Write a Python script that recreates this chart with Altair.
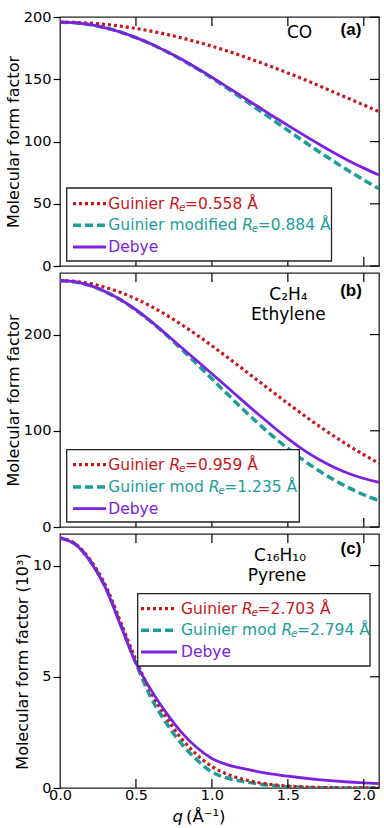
import altair as alt
import pandas as pd

# ---------------- data ----------------
Q = [0.0, 0.1, 0.2, 0.3, 0.4, 0.5, 0.6, 0.7, 0.8, 0.9, 1.0,
     1.1, 1.2, 1.3, 1.4, 1.5, 1.6, 1.7, 1.8, 1.9, 2.0, 2.1]

CO_GUINIER = [196.0, 195.8, 195.2, 194.2, 192.8, 191.0, 188.8, 186.3, 183.4, 180.2, 176.7,
              172.9, 168.8, 164.4, 159.9, 155.2, 150.3, 145.2, 139.9, 134.7, 129.4, 124.1]
CO_MOD = [196.0, 195.5, 194.0, 191.5, 188.0, 183.6, 178.5, 172.5, 165.9, 158.7, 151.1,
          143.0, 134.7, 126.2, 117.6, 109.1, 100.6, 92.3, 84.3, 76.5, 69.2, 62.1]
CO_DEBYE = [196.0, 195.5, 194.0, 191.5, 188.0, 183.6, 178.5, 172.6, 166.2, 159.2, 151.8,
            144.0, 136.2, 128.4, 120.6, 113.1, 105.6, 98.3, 91.3, 84.7, 78.7, 73.1]

C2H4_GUINIER = [256.0, 255.2, 252.9, 249.0, 243.7, 237.1, 229.3, 220.3, 210.4, 199.7, 188.4,
                176.6, 164.6, 152.5, 140.4, 128.4, 116.8, 105.5, 94.8, 84.6, 75.1, 66.2]
C2H4_MOD = [256.0, 254.7, 250.8, 244.5, 236.0, 225.4, 213.2, 199.6, 184.9, 169.6, 154.0,
            138.4, 123.1, 108.4, 94.5, 81.6, 69.7, 58.9, 49.3, 40.9, 33.5, 27.2]
C2H4_DEBYE = [256.0, 254.7, 250.8, 244.6, 236.2, 225.8, 213.7, 200.3, 186.5, 173.0, 159.3,
              145.5, 131.6, 117.9, 104.6, 91.9, 80.5, 70.6, 62.3, 55.6, 50.4, 46.5]

PYR_GUINIER = [11.24, 10.98, 10.25, 9.10, 7.45, 5.75, 4.30, 3.17, 2.22, 1.50, 0.97,
               0.62, 0.40, 0.25, 0.15, 0.09, 0.05, 0.025, 0.012, 0.005, 0.002, 0.0]
PYR_MOD = [11.24, 10.96, 10.20, 9.02, 7.35, 5.60, 4.05, 2.92, 1.98, 1.27, 0.72,
           0.45, 0.30, 0.19, 0.11, 0.06, 0.03, 0.015, 0.007, 0.003, 0.001, 0.0]
PYR_DEBYE = [11.24, 10.96, 10.18, 9.00, 7.30, 5.62, 4.40, 3.38, 2.50, 1.82, 1.33,
             1.05, 0.88, 0.74, 0.62, 0.53, 0.45, 0.38, 0.32, 0.27, 0.23, 0.20]

X_TICKS = [0.5, 1.0, 1.5, 2.0]
X_LABELS = [0.0, 0.5, 1.0, 1.5, 2.0]
A_YTICKS = [0, 50, 100, 150, 200]
B_YTICKS = [0, 100, 200]
C_YTICKS = [0, 5, 10]

A_LEGEND = [("Guinier ", "=0.558 Å"), ("Guinier modified ", "=0.884 Å"), ("Debye", None)]
B_LEGEND = [("Guinier ", "=0.959 Å"), ("Guinier mod ", "=1.235 Å"), ("Debye", None)]
C_LEGEND = [("Guinier ", "=2.703 Å"), ("Guinier mod ", "=2.794 Å"), ("Debye", None)]

# ---------------- style ----------------
RED = "#c8161d"
TEAL = "#1c9e98"
PURPLE = "#7a22e0"
FONT = "DejaVu Sans"
BOLD_FONT = "Liberation Sans"
FRAME = "#222222"
W = 319
TICKLEN = 9
LEG_FS = 15.5
PREFIX_EM = {"Guinier ": 3.943, "Guinier modified ": 8.640, "Guinier mod ": 6.482}

STYLES = [(RED, [3, 3], 3.2), (TEAL, [8, 4], 3.5), (PURPLE, None, 2.8)]

ONE = pd.DataFrame({"k": [0]})


def txt(text, x, y, size, color="black", align="left", baseline="middle",
        style="normal", weight="normal", font=FONT):
    return alt.Chart(ONE).mark_text(
        text=text, font=font, fontSize=size, color=color, align=align,
        baseline=baseline, fontStyle=style, fontWeight=weight
    ).encode(x=alt.value(x), y=alt.value(y))


def panel(height, ymax, yticks, ytitle, curves, legend, leg_box, leg_rows,
          sw_x, text_x, labels, show_x, extra=None):
    xs = alt.Scale(domain=[0, 2.1], nice=False, zero=False)
    ys = alt.Scale(domain=[0, ymax], nice=False, zero=False)
    if show_x:
        xaxis = alt.Axis(values=X_LABELS, format=".1f", ticks=False, tickSize=0,
                         domain=False, grid=False, labelPadding=0,
                         labelFlush=False, title=None)
    else:
        xaxis = None
    yaxis = alt.Axis(values=yticks, tickSize=7, domain=False, grid=False,
                     title=ytitle, labelPadding=2, titlePadding=2)
    layers = []
    order = [1, 0, 2]  # teal, red, purple
    for i in order:
        color, dash, sw = STYLES[i]
        df = pd.DataFrame({"q": Q, "v": curves[i]})
        mk = dict(color=color, strokeWidth=sw, clip=True, interpolate="monotone")
        if dash:
            mk["strokeDash"] = dash
        layers.append(
            alt.Chart(df).mark_line(**mk).encode(
                x=alt.X("q:Q", scale=xs, axis=xaxis),
                y=alt.Y("v:Q", scale=ys, axis=yaxis),
            )
        )
    xt = pd.DataFrame({"q": X_TICKS})
    yt = pd.DataFrame({"v": yticks})
    layers.append(alt.Chart(xt).mark_rule(color="black", strokeWidth=1.2).encode(
        x=alt.X("q:Q", scale=xs), y=alt.value(0), y2=alt.value(TICKLEN)))
    layers.append(alt.Chart(xt).mark_rule(color="black", strokeWidth=1.2).encode(
        x=alt.X("q:Q", scale=xs), y=alt.value(height - TICKLEN), y2=alt.value(height)))
    layers.append(alt.Chart(yt).mark_rule(color="black", strokeWidth=1.2).encode(
        y=alt.Y("v:Q", scale=ys), x=alt.value(W - TICKLEN), x2=alt.value(W)))
    bx0, bx1, by0, by1 = leg_box
    layers.append(alt.Chart(ONE).mark_rect(fill="white", stroke=FRAME, strokeWidth=1.3).encode(
        x=alt.value(bx0), x2=alt.value(bx1), y=alt.value(by0), y2=alt.value(by1)))
    for (prefix, val), ry, (color, dash, sw) in zip(legend, leg_rows, STYLES):
        rk = dict(color=color, strokeWidth=sw, strokeCap="butt")
        if dash:
            rk["strokeDash"] = dash
        layers.append(alt.Chart(ONE).mark_rule(**rk).encode(
            x=alt.value(sw_x[0]), x2=alt.value(sw_x[1]), y=alt.value(ry)))
        layers.append(txt(prefix, text_x, ry, LEG_FS, color=color))
        if val is not None:
            rx = text_x + PREFIX_EM[prefix] * LEG_FS
            layers.append(txt("R", rx, ry, LEG_FS, color=color, style="italic"))
            layers.append(txt("e", rx + 9.5, ry + 4, 10.5, color=color, style="italic"))
            layers.append(txt(val, rx + 15.5, ry, LEG_FS, color=color))
    layers.extend(labels)
    if extra:
        layers.extend(extra)
    return alt.layer(*layers).properties(width=W, height=height)


A_TOP, B_TOP, C_TOP = 15, 271, 532
A_H, B_H, C_H = 249, 254, 254
GAP = 7

pa = panel(
    A_H, 200.2, A_YTICKS, "Molecular form factor",
    [CO_GUINIER, CO_MOD, CO_DEBYE], A_LEGEND,
    (6.7, 271.5, 186 - A_TOP, 259 - A_TOP),
    [201.7 - A_TOP, 223.3 - A_TOP, 245 - A_TOP],
    (13, 46), 48.3,
    [txt("CO", 239.5, 36 - A_TOP, 17, baseline="alphabetic", align="center"),
     txt("(a)", 291, 27.5 - A_TOP, 17, weight="bold", font=BOLD_FONT, align="center")],
    False,
)

pb = panel(
    B_H, 264.0, B_YTICKS, "Molecular form factor",
    [C2H4_GUINIER, C2H4_MOD, C2H4_DEBYE], B_LEGEND,
    (6.7, 239.3, 447.7 - B_TOP, 520 - B_TOP),
    [462.7 - B_TOP, 485 - B_TOP, 506.7 - B_TOP],
    (13, 46), 48.3,
    [txt("C₂H₄", 228.5, 298.3 - B_TOP, 17, baseline="alphabetic", align="center"),
     txt("Ethylene", 228.3, 318.3 - B_TOP, 17, baseline="alphabetic", align="center"),
     txt("(b)", 291, 289 - B_TOP, 17, weight="bold", font=BOLD_FONT, align="center")],
    False,
)

pc = panel(
    C_H, 11.42, C_YTICKS, "Molecular form factor (10³)",
    [PYR_GUINIER, PYR_MOD, PYR_DEBYE], C_LEGEND,
    (77.7, 310, 591.7 - C_TOP, 664 - C_TOP),
    [606.7 - C_TOP, 628.3 - C_TOP, 650 - C_TOP],
    (81, 117), 121,
    [txt("C₁₆H₁₀", 220, 559.3 - C_TOP, 17, baseline="alphabetic", align="center"),
     txt("Pyrene", 217, 579.3 - C_TOP, 17, baseline="alphabetic", align="center"),
     txt("(c)", 291, 547 - C_TOP, 17, weight="bold", font=BOLD_FONT, align="center")],
    True,
    extra=[txt("q", 123, 820 - C_TOP, 16.5, style="italic", align="right", baseline="alphabetic"),
           txt("(Å⁻¹)", 126, 820 - C_TOP, 16.5, align="left", baseline="alphabetic")],
)

chart = alt.vconcat(pa, pb, pc, spacing=GAP, bounds="flush").properties(
    padding={"left": 4, "top": 8, "right": 0, "bottom": 0}
).configure_view(
    stroke=FRAME, strokeWidth=1.3
).configure_axis(
    labelFont=FONT, labelFontSize=14.5, labelColor="black",
    titleFont=FONT, titleFontSize=16, titleFontWeight="normal", titleColor="black",
    tickColor="black", tickWidth=1.2,
)

chart.save("out.html", embed_options={"renderer": "svg", "actions": False})
